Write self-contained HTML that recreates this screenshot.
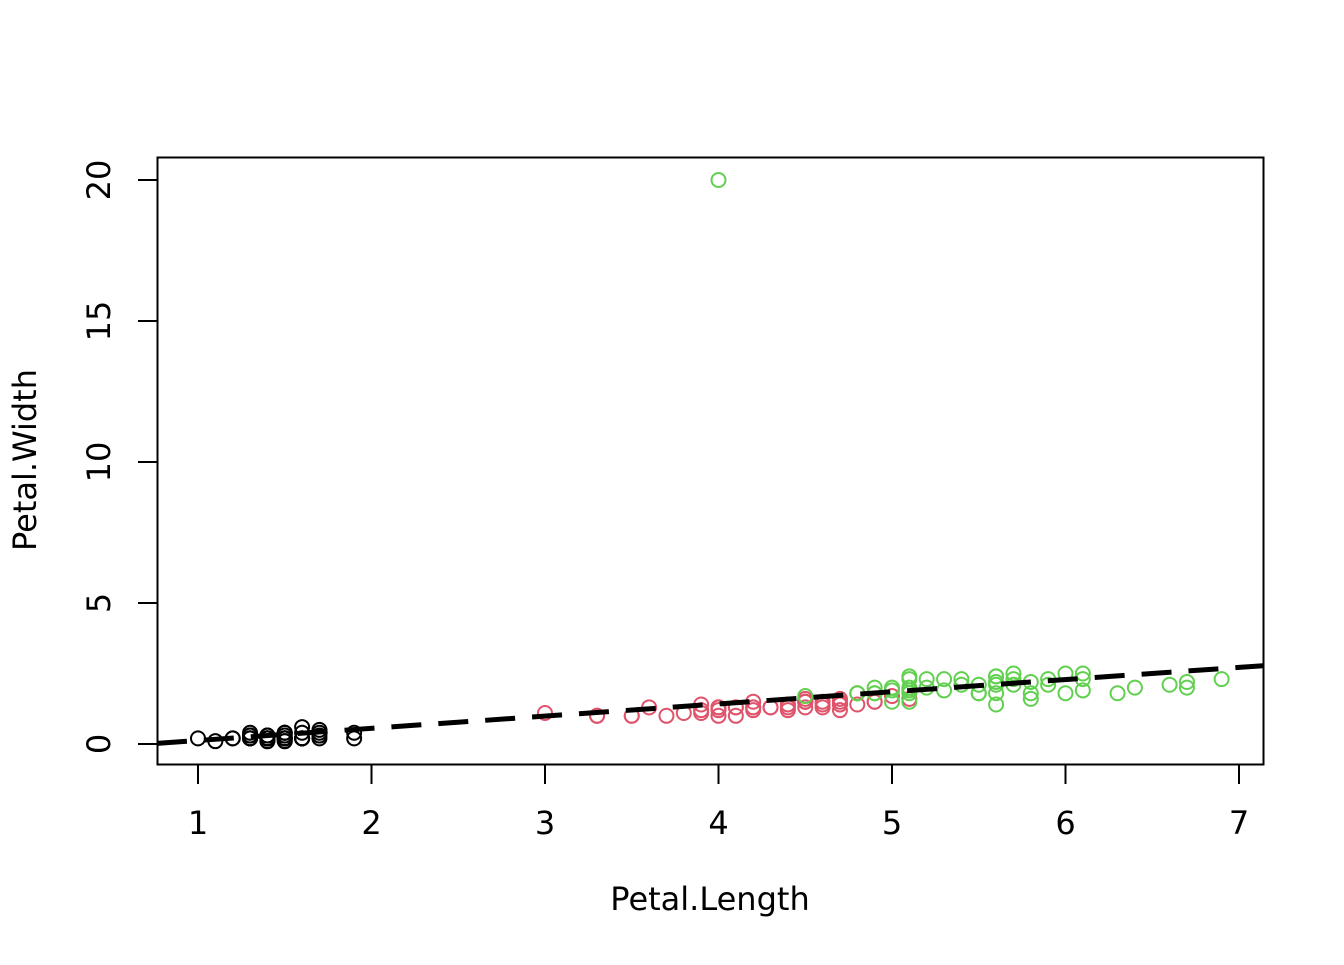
<!DOCTYPE html>
<html><head><meta charset="utf-8"><style>
body{margin:0;background:#fff}
svg text{font-family:"DejaVu Sans","Liberation Sans",sans-serif;font-size:32px;fill:#000}
</style></head><body>
<svg id="chart" width="1344" height="960" xmlns="http://www.w3.org/2000/svg">
<rect x="157.5" y="157.5" width="1106" height="607" fill="none" stroke="#000" stroke-width="2"/>
<g id="axes"></g>
<g id="pts"></g>
<g id="fit"></g>
<text x="710" y="910" text-anchor="middle">Petal.Length</text>
<text transform="translate(36,460) rotate(-90)" text-anchor="middle">Petal.Width</text>
</svg>
<script>
const setosaLen=[1.4,1.4,1.3,1.5,1.4,1.7,1.4,1.5,1.4,1.5,1.5,1.6,1.4,1.1,1.2,1.5,1.3,1.4,1.7,1.5,1.7,1.5,1.0,1.7,1.9,1.6,1.6,1.5,1.4,1.6,1.6,1.5,1.5,1.4,1.5,1.2,1.3,1.4,1.3,1.5,1.3,1.3,1.3,1.6,1.9,1.4,1.6,1.4,1.5,1.4];
const setosaWid=[.2,.2,.2,.2,.2,.4,.3,.2,.2,.1,.2,.2,.1,.1,.2,.4,.4,.3,.3,.3,.2,.4,.2,.5,.2,.2,.4,.2,.2,.2,.2,.4,.1,.2,.2,.2,.2,.1,.2,.2,.3,.3,.2,.6,.4,.3,.2,.2,.2,.2];
const versiLen=[4.7,4.5,4.9,4.0,4.6,4.5,4.7,3.3,4.6,3.9,3.5,4.2,4.0,4.7,3.6,4.4,4.5,4.1,4.5,3.9,4.8,4.0,4.9,4.7,4.3,4.4,4.8,5.0,4.5,3.5,3.8,3.7,3.9,5.1,4.5,4.5,4.7,4.4,4.1,4.0,4.4,4.6,4.0,3.3,4.2,4.2,4.2,4.3,3.0,4.1];
const versiWid=[1.4,1.5,1.5,1.3,1.5,1.3,1.6,1.0,1.3,1.4,1.0,1.5,1.0,1.4,1.3,1.4,1.5,1.0,1.5,1.1,1.8,1.3,1.5,1.2,1.3,1.4,1.4,1.7,1.5,1.0,1.1,1.0,1.2,1.6,1.5,1.6,1.5,1.3,1.3,1.3,1.2,1.4,1.2,1.0,1.3,1.2,1.3,1.3,1.1,1.3];
const virgLen=[6.0,5.1,5.9,5.6,5.8,6.6,4.5,6.3,5.8,6.1,5.1,5.3,5.5,5.0,5.1,5.3,5.5,6.7,6.9,5.0,5.7,4.9,6.7,4.9,5.7,6.0,4.8,4.9,5.6,5.8,6.1,6.4,5.6,5.1,5.6,6.1,5.6,5.5,4.8,5.4,5.6,5.1,5.1,5.9,5.7,5.2,5.0,5.2,5.4,5.1,4.0];
const virgWid=[2.5,1.9,2.1,1.8,2.2,2.1,1.7,1.8,1.8,2.5,2.0,1.9,2.1,2.0,2.4,2.3,1.8,2.2,2.3,1.5,2.3,2.0,2.0,1.8,2.1,1.8,1.8,1.8,2.1,1.6,1.9,2.0,2.2,1.5,1.4,2.3,2.4,1.8,1.8,2.1,2.4,2.3,1.9,2.3,2.5,2.3,1.9,2.0,2.3,1.8,20];
const xTicks=[1,2,3,4,5,6,7];
const yTicks=[0,5,10,15,20];
const fitCoef=[-0.307,0.432];
const X=v=>198+(v-1)*173.5;
const Y=v=>744-v*28.2;
const NS="http://www.w3.org/2000/svg";
function mk(tag,attrs,parent){const e=document.createElementNS(NS,tag);for(const k in attrs)e.setAttribute(k,attrs[k]);parent.appendChild(e);return e;}
const ax=document.getElementById('axes');
mk('line',{x1:X(1),x2:X(7),y1:764.5,y2:764.5,stroke:'#000','stroke-width':2},ax);
xTicks.forEach(t=>{mk('line',{x1:X(t),x2:X(t),y1:764,y2:784,stroke:'#000','stroke-width':2},ax);
const tx=mk('text',{x:X(t),y:834,'text-anchor':'middle'},ax);tx.textContent=t;

});
mk('line',{x1:157.5,x2:157.5,y1:Y(0),y2:Y(20),stroke:'#000','stroke-width':2},ax);
yTicks.forEach(t=>{mk('line',{x1:138,x2:158,y1:Y(t),y2:Y(t),stroke:'#000','stroke-width':2},ax);
const tx=mk('text',{transform:`translate(110,${Y(t)}) rotate(-90)`,'text-anchor':'middle'},ax);tx.textContent=t;

});
const pg=document.getElementById('pts');
function series(xs,ys,col,name){xs.forEach((v,i)=>{const c=mk('circle',{cx:X(v),cy:Y(ys[i]),r:7,fill:'none',stroke:col,'stroke-width':2},pg);

});}
series(setosaLen,setosaWid,'#000','point-setosa');
series(versiLen,versiWid,'#DF536B','point-versicolor');
series(virgLen,virgWid,'#61D04F','point-virginica');
const fg=document.getElementById('fit');
const x0=(157-198)/173.5+1,x1=(1263-198)/173.5+1;
const fl=mk('line',{x1:X(x0),x2:X(x1),y1:Y(fitCoef[0]+fitCoef[1]*x0),y2:Y(fitCoef[0]+fitCoef[1]*x1),stroke:'#000','stroke-width':5,'stroke-dasharray':'30,17'},fg);


</script>
</body></html>
